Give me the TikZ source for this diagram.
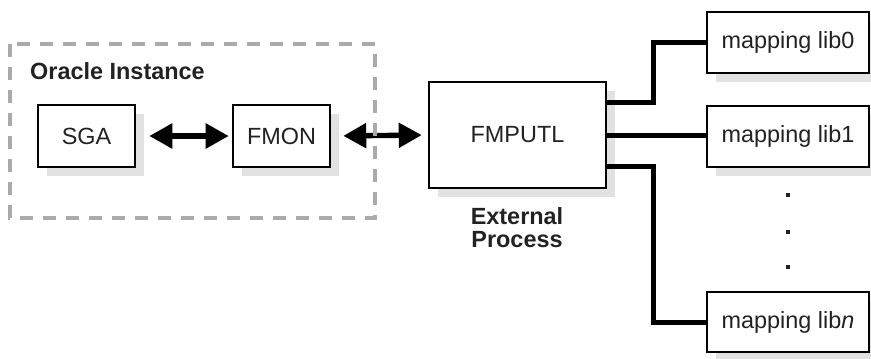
\documentclass[tikz,border=0pt]{standalone}
\usepackage{fontspec}
\setmainfont{Liberation Sans}
\usetikzlibrary{arrows.meta,shadows}
\definecolor{txt}{HTML}{222222}
\definecolor{dashgray}{HTML}{AAAAAA}
\definecolor{shadowgray}{HTML}{E2E2E2}
\tikzset{
  box/.style={draw=black, line width=0.075cm, fill=white, inner sep=0pt,
    text=txt, font=\fontsize{20}{24}\selectfont,
    copy shadow={fill=shadowgray, draw=none, shadow xshift=0.26cm, shadow yshift=-0.26cm}},
  conn/.style={draw=black, line width=0.15cm, line cap=rect},
  dbl/.style={draw=black, line width=0.16cm,
    {Triangle[length=0.69cm,width=0.72cm]}-{Triangle[length=0.69cm,width=0.72cm]}},
  lbl/.style={font=\bfseries\fontsize{20}{19.6}\selectfont, text=txt, inner sep=0pt},
  dot/.style={fill=txt, minimum size=0.12cm, inner sep=0pt, draw=none},
}
\begin{document}
\begin{tikzpicture}[x=0.03cm,y=-0.03cm]
\useasboundingbox (0,0) rectangle (871,358);
\node[lbl, anchor=base west] (oi) at (30,79) {Oracle Instance};
% boxes
\node[box, minimum width=2.91cm, minimum height=1.86cm] (sga) at (86.5,136) {SGA};
\node[box, minimum width=2.91cm, minimum height=1.86cm] (fmon) at (281.5,136) {FMON};
\node[box, minimum width=5.31cm, minimum height=3.18cm] (fmputl) at (517.5,135) {FMPUTL};
\node[lbl, align=center] (ext) at (517,228) {External\\Process};
\node[box, minimum width=4.86cm, minimum height=1.83cm] (lib0) at (788,42.5) {mapping lib0};
\node[box, minimum width=4.86cm, minimum height=1.83cm] (lib1) at (788,136.5) {mapping lib1};
\node[box, minimum width=4.86cm, minimum height=1.80cm] (libn) at (788,322) {mapping lib\textit{n}};
% dots
\node[dot] (d1) at (788,195) {};
\node[dot] (d2) at (788,232) {};
\node[dot] (d3) at (788,267) {};
% arrows
\draw[dbl, shorten <=0.39cm, shorten >=0.09cm] (sga.east) -- (fmon.west);
\draw[dbl, shorten <=0.36cm, shorten >=0.18cm] (fmon.east) -- (fmputl.west);
% oracle instance dashed frame (drawn over the arrow, as in the original)
\draw[dashgray, line width=0.12cm, dash pattern=on 0.39cm off 0.3cm] (10,44) rectangle (375,218);
% connectors
\draw[conn] ([yshift=0.99cm]fmputl.east) -| ([xshift=-1.56cm]lib0.west) -- (lib0.west);
\draw[conn] (fmputl.east) -- (fmputl.east -| lib1.west);
\draw[conn] ([yshift=-0.93cm]fmputl.east) -| ([xshift=-1.56cm]libn.west) -- (libn.west);
\end{tikzpicture}
\end{document}
